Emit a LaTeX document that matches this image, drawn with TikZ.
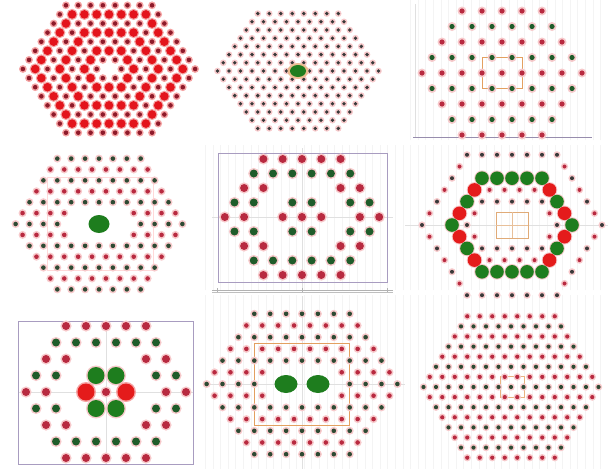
\documentclass[tikz,border=0pt]{standalone}
\definecolor{pbig}{HTML}{E3141C}
\definecolor{psmall}{HTML}{8E1A2A}
\definecolor{phalo}{HTML}{F5A3A3}
\definecolor{lhalo}{HTML}{F7C9CB}
\definecolor{dk}{HTML}{3A3A3A}
\definecolor{dred}{HTML}{B82A40}
\definecolor{dgreen}{HTML}{1F5C2A}
\definecolor{ddgreen}{HTML}{2E4A33}
\definecolor{bgreen}{HTML}{1E7D1E}
\definecolor{bred}{HTML}{E41B1B}
\definecolor{frame}{HTML}{A89CC0}
\definecolor{sq}{HTML}{E3A060}
\definecolor{gridc}{HTML}{F4F4F4}
\newcommand\hexloop[2]{%
  \pgfmathtruncatemacro\hmin{1-#1}%
  \pgfmathtruncatemacro\hmax{#1-1}%
  \foreach \r in {\hmin,...,\hmax}{%
    \pgfmathtruncatemacro\cnt{2*#1-1-abs(\r)}%
    \foreach \k in {1,...,\cnt}{%
      \pgfmathsetmacro\o{\k-(\cnt+1)/2}%
      \pgfmathtruncatemacro\sh{max(abs(round(\o-\r/2)),abs(\r),abs(round(-\o-\r/2)))}%
      \pgfmathtruncatemacro\hole{(abs(\r)<=1)*(abs(\o)<=2)}%
      \pgfmathtruncatemacro\rodd{mod(abs(\r),2)}%
      \coordinate (p) at ({\cx+\o*\ha},{\cy+\r*\hh});%
      #2%
    }}}
\newcommand\pdot[4]{\ifnum\pass=0\relax\fill[#3] (p) circle[radius=#4*1pt];\else\fill[#1] (p) circle[radius=#2*1pt];\fi}
\newcommand\panel[1]{\def\pass{0}#1\def\pass{1}#1}
\begin{document}
\begin{tikzpicture}[x=1pt,y=-1pt]
\useasboundingbox (0,0) rectangle (608,469);
\fill[white] (0,0) rectangle (608,469);
% faint grids
\draw[gridc, line width=0.3pt, step=7.6] (405,0) grid (608,140);
\draw[gridc, line width=0.3pt, step=7.6] (205,145) grid (608,290);
\draw[gridc, line width=0.3pt, step=7.6] (205,295) grid (608,469);
% ---------- panel 1
\def\cx{109}\def\cy{69}\def\ha{12.3}\def\hh{9.1}
\panel{\hexloop{8}{\ifnum\sh=0\relax\else\ifodd\sh\relax\pdot{psmall}{2.3}{phalo}{3.9}\else\pdot{pbig}{4.3}{phalo}{5.6}\fi\fi}}
% ---------- panel 2
\def\cx{298}\def\cy{71}\def\ha{11.5}\def\hh{8.2}
\panel{\hexloop{8}{\ifnum\sh=0\relax\else\pdot{dk}{1.9}{lhalo}{3.3}\fi}}
\fill[sq!70] (298,71) circle[x radius=10.5pt, y radius=8pt];
\fill[bgreen] (298,71) circle[x radius=8pt, y radius=6pt];
% ---------- panel 3
\draw[black!12] (415,4) -- (415,137);
\draw[frame!90!black, line width=0.8pt] (413,137) -- (592,137);
\def\cx{502}\def\cy{73}\def\ha{20}\def\hh{15.5}
\draw[sq, line width=0.7pt] (482,57.5) rectangle (522,88.5);
\panel{\hexloop{5}{\ifodd\rodd\relax\pdot{dgreen}{2.6}{lhalo}{4.5}\else\pdot{dred}{2.6}{lhalo}{4.5}\fi}}
% ---------- panel 4
\draw[red!15, line width=0.6pt] (47,177) rectangle (153,270);
\def\cx{99}\def\cy{224}\def\ha{13.9}\def\hh{10.9}
\panel{\hexloop{7}{\ifnum\hole=1\relax\else\ifodd\rodd\relax\pdot{dred}{2.3}{lhalo}{4}\else\pdot{ddgreen}{2.3}{lhalo}{4}\fi\fi}}
\fill[bgreen] (99,224) circle[x radius=10.5pt, y radius=9pt];
% ---------- panel 5
\draw[black!12] (302,148) -- (302,288) (212,217) -- (393,217);
\draw[frame, line width=1pt] (218,153) rectangle (387,282);
\draw[black!30] (212,290) -- (393,290);
\foreach \t in {217,302,387} \draw[black!30] (\t,288) -- (\t,292);
\def\cx{302}\def\cy{217}\def\ha{19.3}\def\hh{14.5}
\panel{\hexloop{5}{\ifnum\sh=2\relax\else\ifodd\rodd\relax\pdot{dgreen}{4}{lhalo}{5.6}\else\pdot{dred}{4}{lhalo}{5.6}\fi\fi}}
% ---------- panel 6
\def\cx{512}\def\cy{225}\def\ha{15}\def\hh{11.7}
\draw[black!12] (405,225) -- (608,225);
\panel{\hexloop{7}{\ifnum\sh=5\relax\else\ifnum\hole=1\relax\else
  \ifnum\sh=4\relax
    \ifodd\rodd\relax\pdot{bred}{6.8}{lhalo}{7.8}\else\pdot{bgreen}{6.8}{lhalo}{7.8}\fi
  \else
    \ifodd\rodd\relax\pdot{dred}{2}{lhalo}{3.6}\else\pdot{dk}{2}{lhalo}{3.6}\fi
  \fi\fi\fi}}
\draw[sq!70!brown!80, line width=0.7pt] (496,212) rectangle (528,238);
\draw[sq!70!brown!60, line width=0.5pt] (512,212) -- (512,238) (496,225) -- (528,225);
% ---------- panel 7
\draw[black!12] (106,321) -- (106,464) (18,392) -- (193,392);
\draw[frame, line width=1pt] (18,321) rectangle (193,464);
\def\cx{106}\def\cy{392}\def\ha{20}\def\hh{16.5}
\panel{\hexloop{5}{\ifnum\sh=2\relax\else
  \ifnum\sh=1\relax
    \ifodd\rodd\relax\pdot{bgreen}{8.5}{lhalo}{10}\else\pdot{bred}{8.5}{phalo}{10}\fi
  \else
    \ifodd\rodd\relax\pdot{dgreen}{4}{lhalo}{5.6}\else\pdot{dred}{4}{lhalo}{5.6}\fi
  \fi\fi}}
% ---------- panel 8
\draw[black!25] (212,292) -- (393,292);
\draw[black!12] (302,296) -- (302,469) (205,384) -- (405,384);
\draw[sq, line width=0.7pt] (254,343) rectangle (349,425);
\def\cx{302}\def\cy{384}\def\ha{15.9}\def\hh{11.7}
\panel{\hexloop{7}{\ifnum\hole=1\relax\else\ifodd\rodd\relax\pdot{dred}{2.3}{lhalo}{4}\else\pdot{ddgreen}{2.3}{lhalo}{4}\fi\fi}}
\fill[bgreen] (286,384) circle[x radius=11.5pt, y radius=9pt];
\fill[bgreen] (318,384) circle[x radius=11.5pt, y radius=9pt];
% ---------- panel 9
\def\cx{511}\def\cy{387}\def\ha{12.5}\def\hh{10.1}
\draw[sq!80, line width=0.6pt] (500,376) rectangle (524,397);
\panel{\hexloop{8}{\ifodd\rodd\relax\pdot{dred}{2.1}{lhalo}{3.7}\else\pdot{ddgreen}{2.1}{lhalo}{3.7}\fi}}
\end{tikzpicture}
\end{document}
